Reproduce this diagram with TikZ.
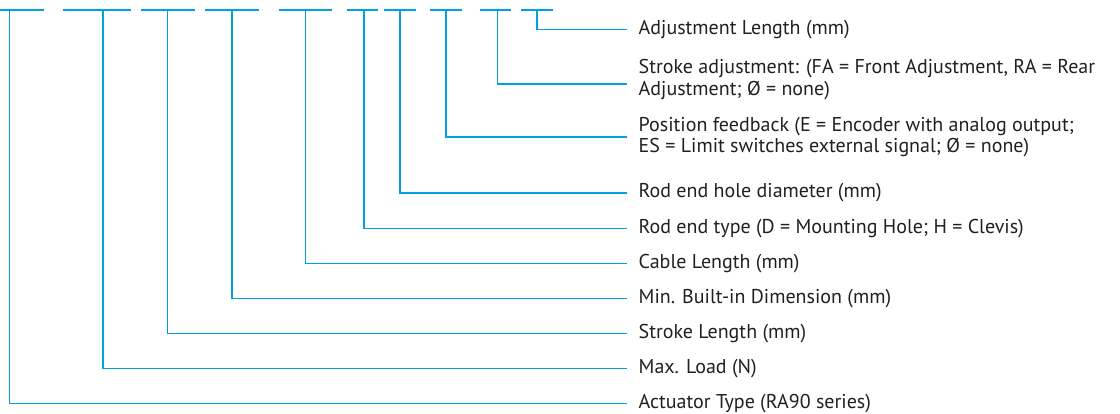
\documentclass[tikz,border=0pt]{standalone}
\usepackage{fontspec}
\setmainfont{PT Sans}
\usetikzlibrary{positioning}

\definecolor{leadblue}{RGB}{0,160,227}
\definecolor{textgray}{RGB}{35,31,32}

\begin{document}
\begin{tikzpicture}[x=1pt, y=-1pt,
  lead/.style={draw=leadblue, line width=1.2pt},
  lbl/.style={anchor=west, inner xsep=11.5pt, inner ysep=0pt, text=textgray,
    align=left, font=\fontsize{20}{21.6}\selectfont}]

  \useasboundingbox (0,0) rectangle (1120,414);

  % code positions
  \coordinate (t1) at (9.7,10);
  \coordinate (t2) at (103,10);
  \coordinate (t3) at (167.7,10);
  \coordinate (t4) at (232,10);
  \coordinate (t5) at (305.7,10);
  \coordinate (t6) at (364,10);
  \coordinate (t7) at (400,10);
  \coordinate (t8) at (446,10);
  \coordinate (t9) at (497.3,10);
  \coordinate (t10) at (537,10);

  \draw[lead] (0,10) -- (43.7,10);
  \draw[lead] (62.7,10) -- (131,10);
  \draw[lead] (141.3,10) -- (195,10);
  \draw[lead] (205.3,10) -- (259,10);
  \draw[lead] (278.7,10) -- (332.3,10);
  \draw[lead] (346.7,10) -- (377.7,10);
  \draw[lead] (384,10) -- (415.7,10);
  \draw[lead] (430,10) -- (461.7,10);
  \draw[lead] (480,10) -- (511,10);
  \draw[lead] (521,10) -- (553,10);

  % labels
  \node[lbl] at (627,29.5) (adjlen) {Adjustment Length (mm)};
  \node[lbl] at (627,79.7) (strokeadj)
  {Stroke adjustment: (FA = Front Adjustment, RA = Rear\\Adjustment; Ø = none)};
  \node[lbl] at (627,137) (posfb)
  {Position feedback (E = Encoder with analog output;\\ES = Limit switches external signal; Ø = none)};
  \node[lbl] at (627,193) (rodhole) {Rod end hole diameter (mm)};

  \node[lbl] at (627,403.3) (acttype) {Actuator Type (RA90 series)};
  \node[lbl, above=35pt of acttype.west, anchor=west] (maxload) {Max. Load (N)};
  \node[lbl, above=35pt of maxload.west, anchor=west] (strokelen) {Stroke Length (mm)};
  \node[lbl, above=35pt of strokelen.west, anchor=west] (minbuilt) {Min. Built-in Dimension (mm)};
  \node[lbl, above=35pt of minbuilt.west, anchor=west] (cable) {Cable Length (mm)};
  \node[lbl, above=35pt of cable.west, anchor=west] (rodtype) {Rod end type (D = Mounting Hole; H = Clevis)};

  \draw[lead] (t1) |- (acttype.west);
  \draw[lead] (t2) |- (maxload.west);
  \draw[lead] (t3) |- (strokelen.west);
  \draw[lead] (t4) |- (minbuilt.west);
  \draw[lead] (t5) |- (cable.west);
  \draw[lead] (t6) |- (rodtype.west);
  \draw[lead] (t7) |- (rodhole.west);
  \draw[lead] (t8) |- (posfb.west);
  \draw[lead] (t9) |- ([yshift=-4.3pt]strokeadj.west);
  \draw[lead] (t10) |- (adjlen.west);

\end{tikzpicture}
\end{document}
